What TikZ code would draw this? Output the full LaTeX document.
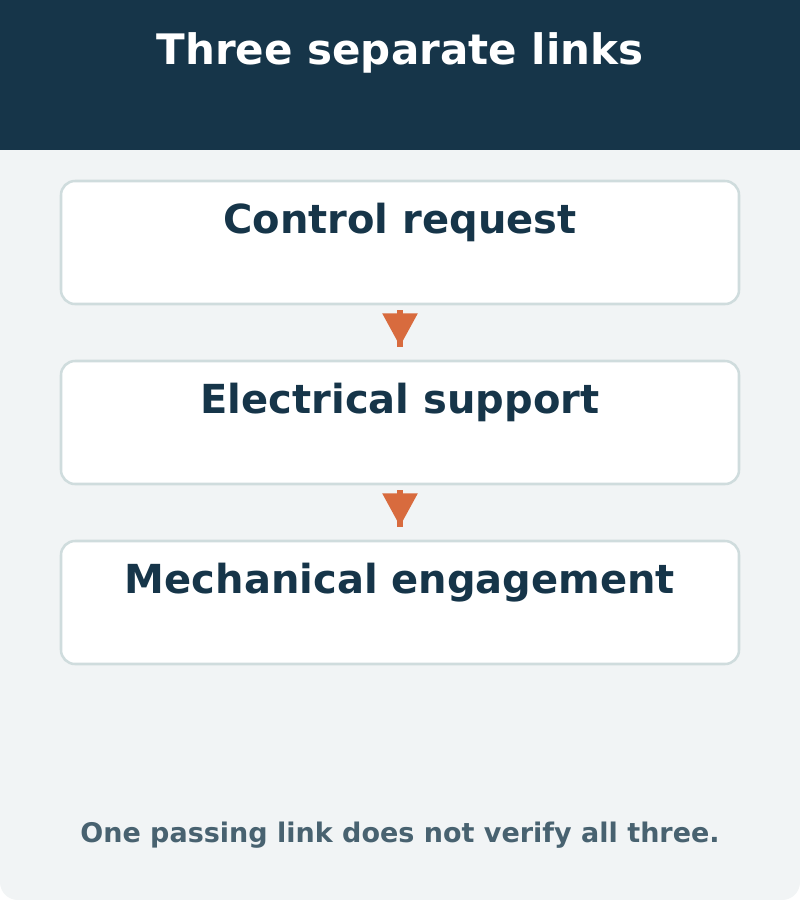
\documentclass[tikz,border=0pt]{standalone}
\usepackage{fontspec}
\setmainfont{DejaVu Sans}
\usetikzlibrary{arrows.meta,decorations.markings}
\definecolor{navy}{HTML}{163549}
\definecolor{panel}{HTML}{F1F4F5}
\definecolor{boxedge}{HTML}{CFDCDD}
\definecolor{linkorange}{HTML}{D86B3E}
\definecolor{notegray}{HTML}{486270}
\begin{document}
\begin{tikzpicture}[x=0.75pt,y=-0.75pt,
    box/.style={draw=boxedge,line width=1.9pt,fill=white,rounded corners=10.5pt,
      minimum width=508.5pt,minimum height=92.25pt,inner sep=0pt},
    boxtext/.style={anchor=base,text=navy,font=\fontsize{30}{36}\selectfont\bfseries},
    link/.style={draw=linkorange,line width=4.5pt,shorten <=3.75pt,shorten >=9.75pt,
      postaction={decorate},
      decoration={markings,mark=at position 30.75pt with
        {\arrow[linkorange]{Triangle[length=24.75pt,width=25.5pt]}}}}]
        \useasboundingbox (0,0) rectangle (800,900);
        \fill[white] (0,0) rectangle (800,900);
        \fill[panel,rounded corners=13.5pt] (0,0) rectangle (800,900);
        \fill[navy] (0,0) rectangle (800,150);
        \node (title) [anchor=base,text=white,font=\fontsize{31.5}{38}\selectfont\bfseries] at (400,64) {Three separate links};
        \node (ctrl) [box] at (400,242.5) {};
        \node (elec) [box] at (400,422.5) {};
        \node (mech) [box] at (400,602.5) {};
        \node (ctrltext) [boxtext] at (400,233) {Control request};
        \node (electext) [boxtext] at (400,413) {Electrical support};
        \node (mechtext) [boxtext] at (400,593) {Mechanical engagement};
        \draw[link] (ctrl.south) -- (elec.north);
        \draw[link] (elec.south) -- (mech.north);
        \node (note) [anchor=base,text=notegray,font=\fontsize{20.25}{24}\selectfont\bfseries] at (400,842) {One passing link does not verify all three.};
      \end{tikzpicture}
\end{document}
